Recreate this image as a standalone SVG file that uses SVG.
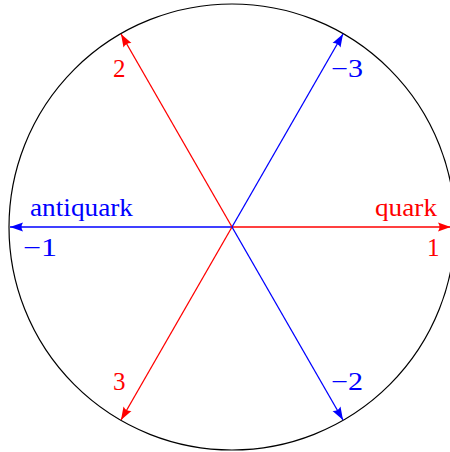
<svg xmlns="http://www.w3.org/2000/svg" width="450" height="452" viewBox="0 0 450 452">
<style>
text{font-family:"Liberation Serif","Times New Roman",serif;font-size:25px}
.r{fill:#ff0000}.b{fill:#0000ff}
.lr{stroke:#ff0000;stroke-width:1.3;fill:none}
.lb{stroke:#0000ff;stroke-width:1.3;fill:none}
</style>
<defs>
<marker id="ar" markerUnits="userSpaceOnUse" markerWidth="15" markerHeight="11" viewBox="-14 -5.5 15 11" refX="0" refY="0" orient="auto"><path d="M0,0 L-13,-4.6 Q-10,0 -13,4.6 Z" fill="#ff0000"/></marker>
<marker id="ab" markerUnits="userSpaceOnUse" markerWidth="15" markerHeight="11" viewBox="-14 -5.5 15 11" refX="0" refY="0" orient="auto"><path d="M0,0 L-13,-4.6 Q-10,0 -13,4.6 Z" fill="#0000ff"/></marker>
</defs>
<g id="circle"><circle cx="232" cy="227" r="223" fill="none" stroke="#000" stroke-width="1.2"/></g>
<g id="connectors">
<line class="lr" x1="232" y1="227" x2="451" y2="227" marker-end="url(#ar)"/>
<line class="lb" x1="232" y1="227" x2="10" y2="227" marker-end="url(#ab)"/>
<line class="lr" x1="232" y1="227" x2="121" y2="34" marker-end="url(#ar)"/>
<line class="lb" x1="232" y1="227" x2="343" y2="34" marker-end="url(#ab)"/>
<line class="lr" x1="232" y1="227" x2="121" y2="420" marker-end="url(#ar)"/>
<line class="lb" x1="232" y1="227" x2="343" y2="420" marker-end="url(#ab)"/>
</g>
<g id="labels">
<text class="b" x="30" y="216" textLength="103" lengthAdjust="spacingAndGlyphs">antiquark</text>
<text class="b" x="23" y="256" textLength="34" lengthAdjust="spacingAndGlyphs">−1</text>
<text class="r" x="375" y="216" textLength="62" lengthAdjust="spacingAndGlyphs">quark</text>
<text class="r" x="427" y="256">1</text>
<text class="r" x="113" y="77">2</text>
<text class="b" x="331" y="77" textLength="32" lengthAdjust="spacingAndGlyphs">−3</text>
<text class="r" x="113" y="390">3</text>
<text class="b" x="331" y="390" textLength="32" lengthAdjust="spacingAndGlyphs">−2</text>
</g>
</svg>
